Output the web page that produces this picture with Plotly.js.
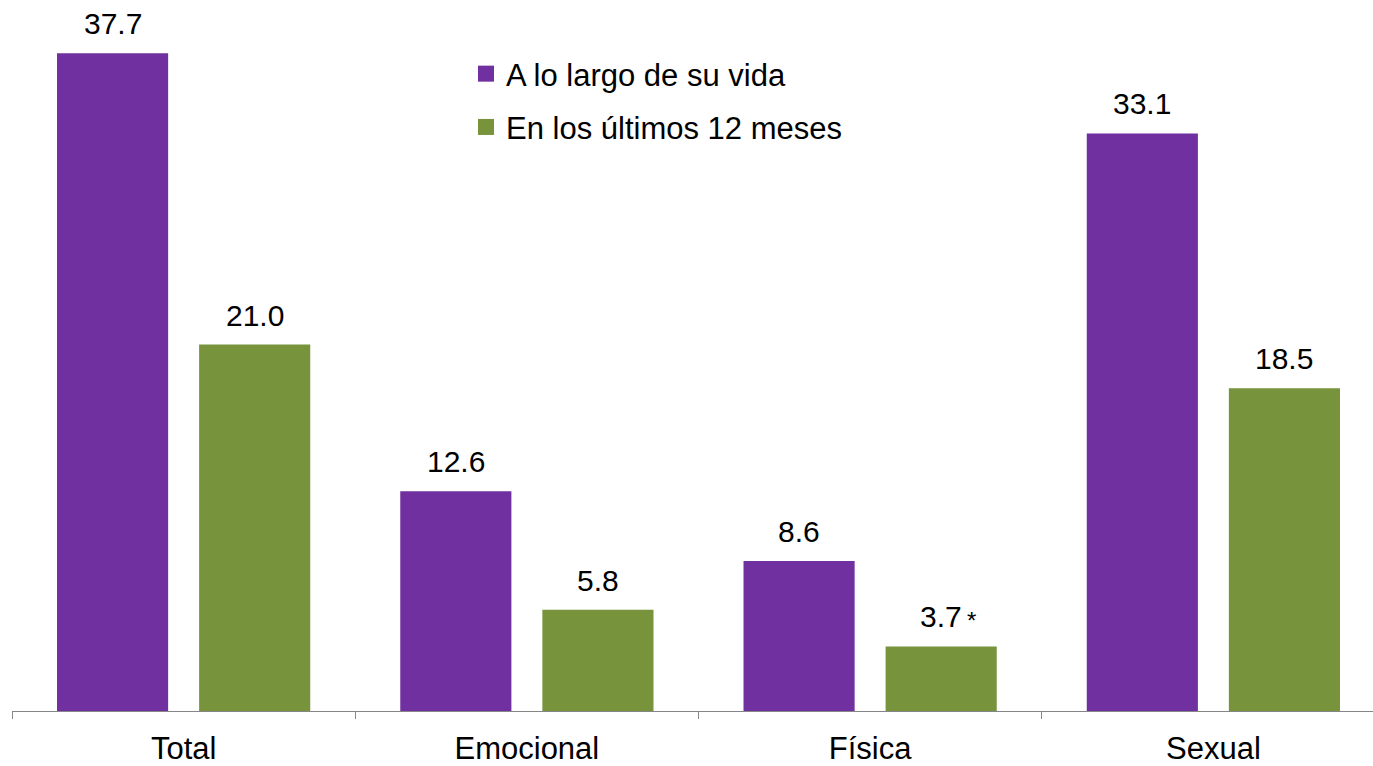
<!DOCTYPE html>
<html>
<head>
<meta charset="utf-8">
<script src="https://cdn.plot.ly/plotly-3.0.1.min.js"></script>
<style>
html, body { margin: 0; padding: 0; overflow: hidden; background: #fff; }
#chart { width: 1385px; height: 766px; }
</style>
</head>
<body>
<div id="chart"></div>
<script>
const categories = ["Total", "Emocional", "Física", "Sexual"];
const seriesNames = ["A lo largo de su vida", "En los últimos 12 meses"];
const lifetime = [37.7, 12.6, 8.6, 33.1];
const last12 = [21.0, 5.8, 3.7, 18.5];
const last12Notes = ["", "", "*", ""];

const colors = ["#7030A0", "#77933C"];
const FONT = "Liberation Sans, Arial, sans-serif";
const W = 1385, H = 766;
const margin = {l: 12, r: 0, t: 13, b: 55};
const bargap = 0.172;
const bargroupgap = 0.218;

const plotW = W - margin.l - margin.r;
const catW = plotW / categories.length;
const slot = catW * (1 - bargap) / 2;
const offsets = [-slot / 2, slot / 2];

const series = [lifetime, last12];
const notes = [null, last12Notes];

const traces = [];
series.forEach((vals, i) => {
  traces.push({
    type: "bar",
    x: categories,
    y: vals,
    marker: {color: colors[i]},
    showlegend: false,
    hoverinfo: "skip"
  });
});
// legend entries with larger square symbols
series.forEach((vals, i) => {
  traces.push({
    type: "scatter",
    mode: "markers",
    x: [null],
    y: [null],
    name: seriesNames[i],
    legendgroup: "g" + i,
    marker: {symbol: "square", size: 16, color: colors[i]},
    showlegend: true
  });
});

const LABEL_SHIFT = 11;
const annotations = [];
series.forEach((vals, i) => {
  vals.forEach((v, j) => {
    annotations.push({
      x: categories[j], y: v, xref: "x", yref: "y",
      text: v.toFixed(1), showarrow: false,
      xanchor: "center", yanchor: "bottom",
      xshift: offsets[i], yshift: LABEL_SHIFT,
      font: {family: FONT, size: 30, color: "#000"}
    });
    if (notes[i] && notes[i][j]) {
      annotations.push({
        x: categories[j], y: v, xref: "x", yref: "y",
        text: notes[i][j], showarrow: false,
        xanchor: "left", yanchor: "bottom",
        xshift: offsets[i] + 24, yshift: LABEL_SHIFT - 1,
        font: {family: FONT, size: 24, color: "#000"}
      });
    }
  });
});

const layout = {
  width: W, height: H,
  margin: margin,
  paper_bgcolor: "#fff", plot_bgcolor: "#fff",
  barmode: "group",
  bargap: bargap,
  bargroupgap: bargroupgap,
  font: {family: FONT, size: 30, color: "#000"},
  xaxis: {
    type: "category",
    tickson: "boundaries",
    ticks: "outside", ticklen: 7, tickcolor: "#868686", tickwidth: 1,
    showline: true, linecolor: "#868686", linewidth: 1,
    showgrid: false, zeroline: false,
    tickfont: {family: FONT, size: 31, color: "#000"},
    ticklabelstandoff: 10,
    fixedrange: true
  },
  yaxis: {
    range: [0, 40],
    visible: false,
    showgrid: false, zeroline: false,
    fixedrange: true
  },
  legend: {
    x: (466 - margin.l) / plotW, y: 1 - (47 - margin.t) / (H - margin.t - margin.b),
    xanchor: "left", yanchor: "top",
    bgcolor: "rgba(0,0,0,0)",
    font: {family: FONT, size: 31, color: "#000"},
    tracegroupgap: 10,
    itemclick: false, itemdoubleclick: false
  },
  annotations: annotations,
  showlegend: true
};

Plotly.newPlot("chart", traces, layout, {staticPlot: true, displayModeBar: false});
</script>
</body>
</html>
